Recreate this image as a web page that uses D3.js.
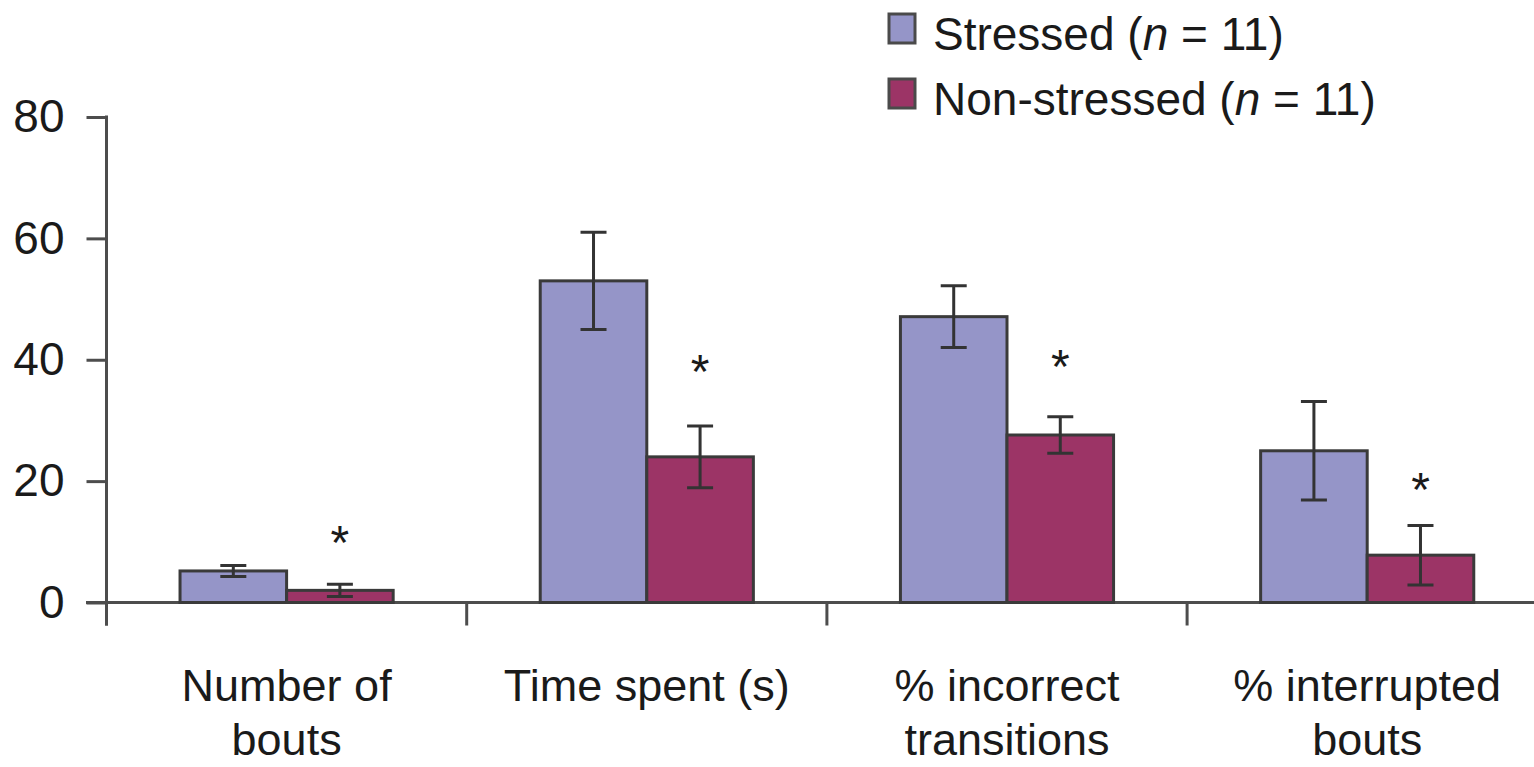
<!DOCTYPE html>
<html>
<head>
<meta charset="utf-8">
<script src="https://cdn.jsdelivr.net/npm/d3@7"></script>
<style>
  html, body { margin: 0; padding: 0; background: #fff; }
  svg { display: block; }
  text { font-family: "Liberation Sans", Arial, Helvetica, sans-serif; fill: #1a1a1a; }
</style>
</head>
<body>
<svg id="chart" width="1534" height="767"></svg>
<script>
// ---- data ----
const categories = [["Number of", "bouts"], ["Time spent (s)"], ["% incorrect", "transitions"], ["% interrupted", "bouts"]];
const seriesNames = ["Stressed", "Non-stressed"];
const stressedMeans = [5.2, 53.0, 47.1, 25.0];
const stressedErrors = [0.9, 8.0, 5.1, 8.1];
const nonStressedMeans = [2.0, 24.0, 27.6, 7.8];
const nonStressedErrors = [1.0, 5.1, 3.0, 4.9];
const asteriskLevels = [11.8, 40.0, 40.8, 20.5];
const yTicks = [0, 20, 40, 60, 80];
const legendLabels = ["Stressed", "Non-stressed"];
const sampleSizes = [11, 11];

const colors = { "Stressed": "#9595C8", "Non-stressed": "#9C3466" };
const svg = d3.select("#chart");
const catKeys = categories.map(c => c.join(" "));

const y = d3.scaleLinear().domain([0, 80]).range([602.5, 117]);
const x0 = d3.scaleBand().domain(catKeys).range([106.5, 106.5 + 4 * 360.2]).paddingInner(0).paddingOuter(0);
const x1 = d3.scaleBand().domain(seriesNames).range([0, x0.bandwidth()]).paddingInner(0).paddingOuter(0.69);

const axisColor = "#4d4d4d";
const fontSize = 46;

// y axis
const yAxis = d3.axisLeft(y).tickValues(yTicks).tickSize(20).tickPadding(22).tickSizeOuter(0);
const gy = svg.append("g").attr("transform", "translate(106.5,0)").call(yAxis);
gy.select(".domain").remove();
gy.selectAll(".tick line").attr("stroke", axisColor).attr("stroke-width", 3);
gy.selectAll(".tick text").attr("font-size", fontSize).attr("fill", "#1a1a1a")
  .style("font-family", '"Liberation Sans", Arial, sans-serif');
svg.append("line").attr("x1", 106.5).attr("x2", 106.5).attr("y1", y(80) - 1.5).attr("y2", y(0) + 23)
  .attr("stroke", axisColor).attr("stroke-width", 3);

// baseline
svg.append("line").attr("x1", 86).attr("x2", 1534).attr("y1", y(0)).attr("y2", y(0))
  .attr("stroke", axisColor).attr("stroke-width", 3);
// category boundary ticks
svg.selectAll(".ctick").data(catKeys).enter().append("line")
  .attr("x1", d => x0(d)).attr("x2", d => x0(d))
  .attr("y1", y(0)).attr("y2", y(0) + 23)
  .attr("stroke", axisColor).attr("stroke-width", 3);

// bars
const rows = catKeys.map((k, i) => ({
  key: k,
  items: [
    { s: "Stressed", v: stressedMeans[i], e: stressedErrors[i] },
    { s: "Non-stressed", v: nonStressedMeans[i], e: nonStressedErrors[i] }
  ],
  star: asteriskLevels[i]
}));

const g = svg.selectAll(".grp").data(rows).enter().append("g")
  .attr("transform", d => `translate(${x0(d.key)},0)`);

g.selectAll("rect").data(d => d.items).enter().append("rect")
  .attr("x", d => x1(d.s)).attr("width", x1.bandwidth())
  .attr("y", d => y(d.v)).attr("height", d => y(0) - y(d.v))
  .attr("fill", d => colors[d.s]).attr("stroke", "#3a3a3a").attr("stroke-width", 3);

// error bars
const capW = 26;
g.selectAll(".eb").data(d => d.items).enter().append("path")
  .attr("d", d => {
    const cx = x1(d.s) + x1.bandwidth() / 2;
    const t = y(d.v + d.e), b = y(d.v - d.e);
    return `M${cx},${t}V${b}M${cx - capW / 2},${t}H${cx + capW / 2}M${cx - capW / 2},${b}H${cx + capW / 2}`;
  })
  .attr("fill", "none").attr("stroke", "#333").attr("stroke-width", 3);

// asterisks
g.append("text")
  .attr("x", x1("Non-stressed") + x1.bandwidth() / 2)
  .attr("y", d => y(d.star) + 28)
  .attr("text-anchor", "middle").attr("font-size", 48)
  .text("*");

// category labels
const lab = svg.selectAll(".clab").data(categories).enter().append("text")
  .attr("text-anchor", "middle").attr("font-size", 45)
  .attr("x", (d, i) => x0(catKeys[i]) + x0.bandwidth() / 2)
  .attr("y", 701);
lab.selectAll("tspan").data(d => d).enter().append("tspan")
  .attr("x", function () { return d3.select(this.parentNode).attr("x"); })
  .attr("dy", (d, i) => i === 0 ? 0 : 54)
  .text(d => d);

// legend
const leg = svg.selectAll(".leg").data(legendLabels).enter().append("g")
  .attr("transform", (d, i) => `translate(889,${14 + i * 65})`);
leg.append("rect").attr("x", 0).attr("y", 0).attr("width", 26).attr("height", 29)
  .attr("fill", d => colors[d]).attr("stroke", "#4a4a4a").attr("stroke-width", 3);
const lt = leg.append("text").attr("x", 44).attr("y", 36).attr("font-size", fontSize);
lt.append("tspan").text((d, i) => legendLabels[i] + " (");
lt.append("tspan").attr("font-style", "italic").text("n");
lt.append("tspan").text((d, i) => " = " + sampleSizes[i] + ")");
</script>
</body>
</html>
